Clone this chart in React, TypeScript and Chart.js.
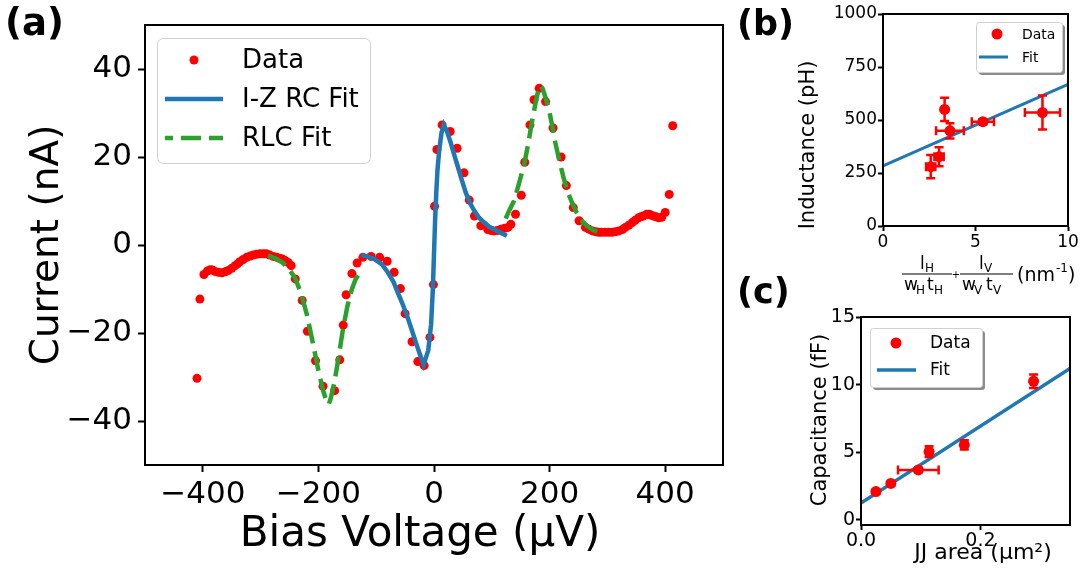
import React, { useEffect, useRef } from "react";
import { Chart, registerables } from "chart.js";
Chart.register(...registerables);

const FONT = "'DejaVu Sans', sans-serif";

// ---------- Panel (a) data ----------
const biasV = [-410,-405,-398,-392,-387,-383,-379,-373,-367,-361,-356,-350,-344,-340,-336,-330,-324,-318,-313,-307,-301,-295,-290,-284,-278,-272,-267,-262,-258,-252,-247,-240,-228,-219,-205,-192,-172,-163,-157,-152,-142,-133,-123,-109,-94,-81,-69,-58,-50,-38,-28,-17,-7,-1,1,5,14,28,40,52,61,70,81,93,99,104,110,116,122,128,133,141,151,157,166,173,182,193,206,220,229,241,251,262,268,274,280,285,290,296,302,308,314,320,326,331,337,343,348,354,358,362,368,372,375,380,384,389,394,400,407,413];
const currentNA = [-30.3,-12.3,-6.7,-5.9,-5.6,-5.7,-6.0,-6.2,-6.3,-6.1,-5.8,-5.3,-4.7,-4.3,-3.8,-3.3,-2.8,-2.5,-2.3,-2.1,-2.0,-2.0,-2.0,-2.3,-2.6,-2.8,-3.0,-3.2,-3.5,-4.0,-4.7,-7.7,-12.6,-19.6,-26.3,-32.1,-33.1,-26.1,-18.2,-11.3,-6.5,-4.1,-2.8,-2.6,-2.8,-3.7,-6.2,-9.9,-15.6,-22,-26.5,-27.4,-21,-9.0,8.8,21.7,27.3,25.8,22.0,16.4,10.2,6.6,4.4,3.5,3.3,3.2,3.3,3.6,3.8,4.0,4.7,7.0,11.3,18.8,27.3,33,35.6,32.6,26.6,20.0,13.5,8.5,5.5,4.0,3.6,3.2,3.0,2.9,2.9,2.9,2.9,2.9,3.0,3.2,3.5,4.0,4.5,5.1,5.6,6.2,6.4,6.6,7.0,7.0,6.8,6.6,6.4,6.2,6.3,7.4,11.5,27.1];

const izFitV = [-126,-115,-103,-90,-80,-70,-63,-55,-45,-38,-31,-24,-18,-10,-5,-2,0,2,4,6,9,13,17,22,29,35,41,48,55,62,70,78,87,95,104,115,126];
const izFitI = [-2.3,-2.6,-3.2,-4.4,-6.2,-8.4,-10.7,-13.2,-16.7,-19.5,-22.3,-25.0,-27.2,-24,-18,-10,-2,6,12,17,21.5,25.5,27.3,26,23.2,20.5,17.9,14.8,11.9,9.6,7.7,6.2,5.1,4.2,3.6,2.8,2.1];

const rlcFitV1 = [-287,-275,-262,-250,-240,-230,-220,-210,-200,-192,-186,-182,-178,-172,-165,-158,-150,-142,-135,-128,-123];
const rlcFitI1 = [-2.4,-3.0,-4.0,-5.6,-7.6,-11.0,-15.8,-22.0,-28.5,-33.0,-35.5,-36.2,-34.5,-31,-25.5,-19.5,-14.0,-10.0,-7.6,-6.3,-5.6];
const rlcFitV2 = [124,130,138,146,156,163,170,176,181,184,188,193,199,205,210,218,225,232,239,247,256,265,275,288];
const rlcFitI2 = [6.0,7.8,9.9,13.5,18.3,23,28.4,32.5,35.5,36.3,35.5,33.5,30.7,26.8,23.2,18.5,14.9,11.8,9.6,7.3,5.5,4.3,3.4,2.8];

const aXTicks = [-400, -200, 0, 200, 400];
const aYTicks = [-40, -20, 0, 20, 40];

// ---------- Panel (b) data ----------
const bX = [2.58, 3.03, 3.33, 3.62, 5.4, 8.62];
const bY = [280, 327, 550, 449, 492, 535];
const bXErr = [0.25, 0.25, 0.1, 0.75, 0.6, 0.95];
const bYErr = [55, 45, 55, 36, 12, 80];
const bFitX = [0, 10];
const bFitY = [284, 668];
const bXTicks = [0, 5, 10];
const bYTicks = [0, 250, 500, 750, 1000];

// ---------- Panel (c) data ----------
const cX = [0.025, 0.05, 0.096, 0.114, 0.173, 0.289];
const cY = [2.1, 2.7, 3.7, 5.05, 5.55, 10.25];
const cXErr = [0.003, 0.003, 0.034, 0.004, 0.004, 0.004];
const cYErr = [0.15, 0.15, 0.15, 0.4, 0.35, 0.5];
const cFitX = [0, 0.35];
const cFitY = [1.25, 11.2];
const cXTicks = [0, 0.2];
const cYTicks = [0, 5, 10, 15];

const BLUE = "#1f77b4";
const GREEN = "#2ca02c";
const RED = "#ff0000";

const pts = (xs: number[], ys: number[]) => xs.map((x, i) => ({ x, y: ys[i] }));
const fmtMinus = (v: number) => (v < 0 ? "\u2212" + Math.abs(v) : String(v));

function axis(o: any) {
  return {
    type: "linear",
    position: o.pos,
    min: o.min,
    max: o.max,
    afterBuildTicks: (s: any) => {
      s.ticks = o.ticks.map((v: number) => ({ value: v }));
    },
    afterFit: (s: any) => {
      if (o.pos === "left") s.width = o.size;
      else s.height = o.size;
    },
    grid: {
      display: true,
      drawOnChartArea: false,
      drawTicks: true,
      tickLength: o.tickLen,
      tickWidth: o.tickW ?? 2,
      tickColor: "#000",
    },
    border: { display: true, color: "#000", width: o.tickW ?? 2 },
    ticks: {
      color: "#000",
      font: { family: FONT, size: o.font },
      padding: o.pad,
      autoSkip: false,
      maxRotation: 0,
      minRotation: 0,
      callback: (v: number) => o.fmt(v),
    },
  };
}

function txt(ctx: CanvasRenderingContext2D, s: string, x: number, y: number, font: string, align: CanvasTextAlign = "left", baseline: CanvasTextBaseline = "middle", rot = 0) {
  ctx.save();
  ctx.translate(x, y);
  if (rot) ctx.rotate(rot);
  ctx.font = font;
  ctx.fillStyle = "#000";
  ctx.textAlign = align;
  ctx.textBaseline = baseline;
  ctx.fillText(s, 0, 0);
  ctx.restore();
}

function roundRect(ctx: CanvasRenderingContext2D, x: number, y: number, w: number, h: number, r: number) {
  ctx.beginPath();
  ctx.moveTo(x + r, y);
  ctx.lineTo(x + w - r, y);
  ctx.arcTo(x + w, y, x + w, y + r, r);
  ctx.lineTo(x + w, y + h - r);
  ctx.arcTo(x + w, y + h, x + w - r, y + h, r);
  ctx.lineTo(x + r, y + h);
  ctx.arcTo(x, y + h, x, y + h - r, r);
  ctx.lineTo(x, y + r);
  ctx.arcTo(x, y, x + r, y, r);
  ctx.closePath();
}

const framePlugin = {
  id: "frame",
  afterDraw(chart: any) {
    const { ctx, chartArea: a } = chart;
    ctx.save();
    ctx.strokeStyle = "#000";
    ctx.lineWidth = 2;
    ctx.strokeRect(a.left, a.top, a.right - a.left, a.bottom - a.top);
    ctx.restore();
  },
};

function errorBarPlugin(xs: number[], ys: number[], xe: number[], ye: number[], afterIndex: number) {
  return {
    id: "errbars",
    afterDatasetDraw(chart: any, args: any) {
      if (args.index !== afterIndex) return;
      const { ctx, scales } = chart;
      const sx = scales.x, sy = scales.y;
      ctx.save();
      ctx.strokeStyle = RED;
      ctx.lineWidth = 2.5;
      const cap = 4.5;
      for (let i = 0; i < xs.length; i++) {
        const px = sx.getPixelForValue(xs[i]);
        const py = sy.getPixelForValue(ys[i]);
        const x0 = sx.getPixelForValue(xs[i] - xe[i]);
        const x1 = sx.getPixelForValue(xs[i] + xe[i]);
        const y0 = sy.getPixelForValue(ys[i] - ye[i]);
        const y1 = sy.getPixelForValue(ys[i] + ye[i]);
        ctx.beginPath();
        ctx.moveTo(x0, py); ctx.lineTo(x1, py);
        ctx.moveTo(x0, py - cap); ctx.lineTo(x0, py + cap);
        ctx.moveTo(x1, py - cap); ctx.lineTo(x1, py + cap);
        ctx.moveTo(px, y0); ctx.lineTo(px, y1);
        ctx.moveTo(px - cap, y0); ctx.lineTo(px + cap, y0);
        ctx.moveTo(px - cap, y1); ctx.lineTo(px + cap, y1);
        ctx.stroke();
      }
      ctx.restore();
    },
  };
}

function useChart(ref: React.RefObject<HTMLCanvasElement>, make: () => any) {
  useEffect(() => {
    const c = new Chart(ref.current as HTMLCanvasElement, make());
    return () => c.destroy();
  }, []);
}

const baseOpts = (padding: any, scales: any) => ({
  animation: false,
  responsive: false,
  maintainAspectRatio: false,
  events: [],
  layout: { padding },
  plugins: { legend: { display: false }, tooltip: { enabled: false } },
  scales,
});

function PanelA() {
  const ref = useRef<HTMLCanvasElement>(null);
  useChart(ref, () => ({
    type: "scatter",
    data: {
      datasets: [
        { label: "Data", data: pts(biasV, currentNA), pointRadius: 4.5, pointBackgroundColor: RED, pointBorderWidth: 0, showLine: false, order: 3 },
        { label: "I-Z RC Fit", data: pts(izFitV, izFitI), showLine: true, pointRadius: 0, borderColor: BLUE, borderWidth: 4.5, tension: 0, order: 0 },
        { label: "RLC Fit", data: pts(rlcFitV1, rlcFitI1), showLine: true, pointRadius: 0, borderColor: GREEN, borderWidth: 4.5, borderDash: [20, 8], tension: 0, order: 1 },
        { label: "RLC Fit 2", data: pts(rlcFitV2, rlcFitI2), showLine: true, pointRadius: 0, borderColor: GREEN, borderWidth: 4.5, borderDash: [20, 8], tension: 0, order: 1 },
      ],
    },
    options: baseOpts(
      { top: 25, right: 12, left: 0, bottom: 0 },
      {
        x: axis({ pos: "bottom", min: -500, max: 500, ticks: aXTicks, size: 574 - 465, tickLen: 7, pad: 4, font: 31, fmt: fmtMinus }),
        y: axis({ pos: "left", min: -50, max: 50, ticks: aYTicks, size: 145, tickLen: 7, pad: 6, font: 31, fmt: fmtMinus }),
      }
    ),
    plugins: [
      framePlugin,
      {
        id: "decorA",
        afterDraw(chart: any) {
          const ctx = chart.ctx as CanvasRenderingContext2D;
          txt(ctx, "(a)", 5, 35, `bold 37px ${FONT}`, "left", "alphabetic");
          txt(ctx, "Current (nA)", 48, 245, `39px ${FONT}`, "center", "middle", -Math.PI / 2);
          txt(ctx, "Bias Voltage (\u00b5V)", 420, 535, `42px ${FONT}`, "center", "middle");
          // legend
          ctx.save();
          roundRect(ctx, 157.5, 38.5, 213, 125, 6);
          ctx.fillStyle = "rgba(255,255,255,0.8)";
          ctx.fill();
          ctx.strokeStyle = "#d0d0d0";
          ctx.lineWidth = 1;
          ctx.stroke();
          ctx.fillStyle = RED;
          ctx.beginPath();
          ctx.arc(194, 60, 4.5, 0, Math.PI * 2);
          ctx.fill();
          ctx.lineWidth = 4.5;
          ctx.strokeStyle = BLUE;
          ctx.beginPath();
          ctx.moveTo(165, 99); ctx.lineTo(223, 99);
          ctx.stroke();
          ctx.strokeStyle = GREEN;
          ctx.setLineDash([20, 8]);
          ctx.lineDashOffset = 12;
          ctx.beginPath();
          ctx.moveTo(165, 138); ctx.lineTo(223, 138);
          ctx.stroke();
          ctx.restore();
          txt(ctx, "Data", 242, 61, `26px ${FONT}`);
          txt(ctx, "I-Z RC Fit", 242, 100, `26px ${FONT}`);
          txt(ctx, "RLC Fit", 242, 139, `26px ${FONT}`);
        },
      },
    ],
  }));
  return <canvas ref={ref} width={735} height={574} style={{ position: "absolute", left: 0, top: 0 }} />;
}

function PanelB() {
  const ref = useRef<HTMLCanvasElement>(null);
  useChart(ref, () => ({
    type: "scatter",
    data: {
      datasets: [
        { label: "Data", data: pts(bX, bY), pointRadius: 5.5, pointBackgroundColor: RED, pointBorderWidth: 0, showLine: false, order: 0 },
        { label: "Fit", data: pts(bFitX, bFitY), showLine: true, pointRadius: 0, borderColor: BLUE, borderWidth: 3, tension: 0, order: 1 },
      ],
    },
    options: baseOpts(
      { top: 14, right: 19, left: 0, bottom: 0 },
      {
        x: axis({ pos: "bottom", min: 0, max: 10, ticks: bXTicks, size: 300 - 226, tickLen: 5, pad: 1, font: 17, fmt: (v: number) => String(v) }),
        y: axis({ pos: "left", min: 0, max: 1000, ticks: bYTicks, size: 153, tickLen: 5, pad: 1, font: 17, fmt: (v: number) => String(v) }),
      }
    ),
    plugins: [
      framePlugin,
      errorBarPlugin(bX, bY, bXErr, bYErr, 1),
      {
        id: "decorB",
        afterDraw(chart: any) {
          const ctx = chart.ctx as CanvasRenderingContext2D;
          txt(ctx, "(b)", 7, 35, `bold 35px ${FONT}`, "left", "alphabetic");
          txt(ctx, "Inductance (pH)", 79, 145, `21px ${FONT}`, "center", "middle", -Math.PI / 2);
          // fraction title
          const f = `17px ${FONT}`;
          const fs = `12px ${FONT}`;
          ctx.save();
          ctx.strokeStyle = "#000";
          ctx.lineWidth = 1.2;
          ctx.beginPath();
          ctx.moveTo(172, 274); ctx.lineTo(222, 274);
          ctx.moveTo(230, 274); ctx.lineTo(283, 274);
          ctx.stroke();
          ctx.restore();
          // numerators
          txt(ctx, "l", 190, 269, f, "left", "alphabetic");
          txt(ctx, "H", 195, 272, fs, "left", "alphabetic");
          txt(ctx, "l", 249, 269, f, "left", "alphabetic");
          txt(ctx, "V", 254, 272, fs, "left", "alphabetic");
          // denominators
          txt(ctx, "w", 174, 290, f, "left", "alphabetic");
          txt(ctx, "H", 186, 294, fs, "left", "alphabetic");
          txt(ctx, "t", 197, 290, f, "left", "alphabetic");
          txt(ctx, "H", 204, 294, fs, "left", "alphabetic");
          txt(ctx, "w", 232, 290, f, "left", "alphabetic");
          txt(ctx, "V", 244, 294, fs, "left", "alphabetic");
          txt(ctx, "t", 256, 290, f, "left", "alphabetic");
          txt(ctx, "V", 263, 294, fs, "left", "alphabetic");
          txt(ctx, "+", 226, 275, `10px ${FONT}`, "center", "middle");
          txt(ctx, "(nm", 287, 281, `19px ${FONT}`, "left", "alphabetic");
          txt(ctx, "-1", 326, 272, `12px ${FONT}`, "left", "alphabetic");
          txt(ctx, ")", 338, 281, `19px ${FONT}`, "left", "alphabetic");
          // legend with shadow
          ctx.save();
          ctx.fillStyle = "rgba(0,0,0,0.45)";
          roundRect(ctx, 249, 25, 86, 50, 3);
          ctx.fill();
          roundRect(ctx, 246.5, 22.5, 86, 50, 3);
          ctx.fillStyle = "#ffffff";
          ctx.fill();
          ctx.strokeStyle = "#d0d0d0";
          ctx.lineWidth = 1;
          ctx.stroke();
          ctx.fillStyle = RED;
          ctx.beginPath();
          ctx.arc(267, 34, 5.5, 0, Math.PI * 2);
          ctx.fill();
          ctx.strokeStyle = BLUE;
          ctx.lineWidth = 3;
          ctx.beginPath();
          ctx.moveTo(249, 57); ctx.lineTo(278, 57);
          ctx.stroke();
          ctx.restore();
          txt(ctx, "Data", 292, 35, `14px ${FONT}`);
          txt(ctx, "Fit", 292, 58, `14px ${FONT}`);
        },
      },
    ],
  }));
  return <canvas ref={ref} width={357} height={300} style={{ position: "absolute", left: 730, top: 0 }} />;
}

function PanelC() {
  const ref = useRef<HTMLCanvasElement>(null);
  useChart(ref, () => ({
    type: "scatter",
    data: {
      datasets: [
        { label: "Data", data: pts(cX, cY), pointRadius: 5.5, pointBackgroundColor: RED, pointBorderWidth: 0, showLine: false, order: 0 },
        { label: "Fit", data: pts(cFitX, cFitY), showLine: true, pointRadius: 0, borderColor: BLUE, borderWidth: 3.5, tension: 0, order: 1 },
      ],
    },
    options: baseOpts(
      { top: 57, right: 17, left: 0, bottom: 0 },
      {
        x: axis({ pos: "bottom", min: 0, max: 0.35, ticks: cXTicks, size: 314 - 265, tickLen: 5, pad: 0, font: 19, fmt: (v: number) => v.toFixed(1) }),
        y: axis({ pos: "left", min: -0.37, max: 15, ticks: cYTicks, size: 131, tickLen: 5, pad: 1, font: 19, fmt: (v: number) => String(v) }),
      }
    ),
    plugins: [
      framePlugin,
      errorBarPlugin(cX, cY, cXErr, cYErr, 1),
      {
        id: "decorC",
        afterDraw(chart: any) {
          const ctx = chart.ctx as CanvasRenderingContext2D;
          txt(ctx, "(c)", 7, 43, `bold 35px ${FONT}`, "left", "alphabetic");
          txt(ctx, "Capacitance (fF)", 91, 160, `21px ${FONT}`, "center", "middle", -Math.PI / 2);
          txt(ctx, "JJ area (\u00b5m\u00b2)", 253, 293, `22px ${FONT}`, "center", "middle");
          ctx.save();
          ctx.fillStyle = "rgba(0,0,0,0.45)";
          roundRect(ctx, 143, 71, 112, 59, 3);
          ctx.fill();
          roundRect(ctx, 140.5, 68.5, 112, 59, 3);
          ctx.fillStyle = "#ffffff";
          ctx.fill();
          ctx.strokeStyle = "#d0d0d0";
          ctx.lineWidth = 1;
          ctx.stroke();
          ctx.fillStyle = RED;
          ctx.beginPath();
          ctx.arc(166, 83, 5.5, 0, Math.PI * 2);
          ctx.fill();
          ctx.strokeStyle = BLUE;
          ctx.lineWidth = 3.5;
          ctx.beginPath();
          ctx.moveTo(147, 110); ctx.lineTo(186, 110);
          ctx.stroke();
          ctx.restore();
          txt(ctx, "Data", 200, 84, `17px ${FONT}`);
          txt(ctx, "Fit", 200, 111, `17px ${FONT}`);
        },
      },
    ],
  }));
  return <canvas ref={ref} width={357} height={314} style={{ position: "absolute", left: 730, top: 260 }} />;
}

export default function App() {
  return (
    <div style={{ position: "fixed", left: 0, top: 0, width: 1087, height: 574, background: "#fff" }}>
      <PanelA />
      <PanelB />
      <PanelC />
    </div>
  );
}
